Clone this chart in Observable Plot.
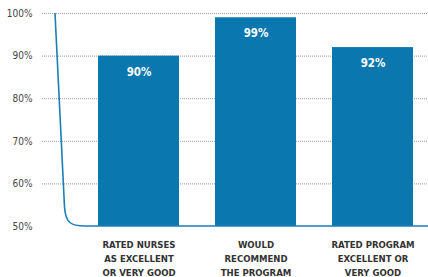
<!DOCTYPE html>
<html>
<head>
<meta charset="utf-8">
<script src="https://cdn.jsdelivr.net/npm/d3@7"></script>
<script src="https://cdn.jsdelivr.net/npm/@observablehq/plot@0.6"></script>
<style>
  html, body { margin: 0; padding: 0; background: #fff; }
  #chart svg { display: block; }
</style>
</head>
<body>
<div id="chart"></div>
<script>
const categories = ["RATED NURSES\nAS EXCELLENT\nOR VERY GOOD", "WOULD\nRECOMMEND\nTHE PROGRAM", "RATED PROGRAM\nEXCELLENT OR\nVERY GOOD"];
const values = [90, 99, 92];
const yTicks = [50, 60, 70, 80, 90, 100];
const gridTicks = [60, 70, 80, 90, 100];

const data = categories.map((c, i) => ({category: c, value: values[i]}));
const blue = "#0a77ae";
const font = "'Liberation Sans Narrow', 'DejaVu Sans Condensed', 'Roboto', sans-serif";

function axisCurve(index, scales, values, dims) {
  const y0 = scales.y(100), y1 = scales.y(50);
  const x0 = 55;
  const p = `M${x0},${y0} L${x0 + 9.5},${y1 - 19} C${x0 + 10.5},${y1 - 3} ${x0 + 16},${y1} ${x0 + 30},${y1} L${dims.width},${y1}`;
  return d3.create("svg:path")
    .attr("d", p)
    .attr("fill", "none")
    .attr("stroke", "#1a7fb6")
    .attr("stroke-width", 1.6)
    .node();
}

const chart = Plot.plot({
  width: 428,
  height: 277,
  marginTop: 13,
  marginBottom: 51,
  marginLeft: 83,
  marginRight: 0,
  style: {fontFamily: font, background: "#fff"},
  x: {domain: categories, paddingInner: 0.308, paddingOuter: 0.128, axis: null},
  y: {domain: [50, 100], axis: null},
  marks: [
    Plot.ruleY(gridTicks, {stroke: "#999", strokeDasharray: "1,1", strokeWidth: 1, insetLeft: -41}),
    Plot.barY(data, {x: "category", y1: 50, y2: "value", fill: blue}),
    axisCurve,
    Plot.axisY({ticks: yTicks, tickFormat: d => d + "%", tickSize: 0, tickPadding: 51, fontSize: 10, fill: "#444", label: null}),
    Plot.text(data, {x: "category", y: "value", text: d => d.value + "%", dy: 16, fill: "white", fontSize: 11.5, fontWeight: "bold"}),
    Plot.text(data, {x: "category", text: "category", frameAnchor: "bottom", lineAnchor: "top", dy: 12, lineHeight: 1.45, fontSize: 9.5, fontWeight: "bold", fill: "#333"})
  ]
});
document.getElementById("chart").appendChild(chart);
</script>
</body>
</html>
